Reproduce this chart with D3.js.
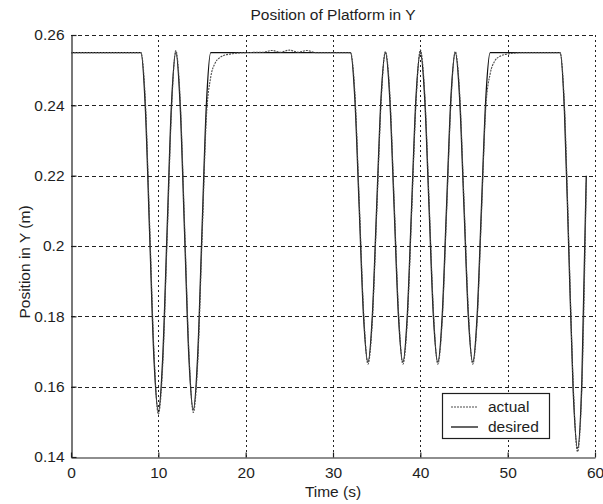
<!DOCTYPE html>
<html>
<head>
<meta charset="utf-8">
<script src="https://cdn.jsdelivr.net/npm/d3@7"></script>
<style>
  html, body { margin: 0; padding: 0; background: #fff; }
  svg { display: block; font-family: "Liberation Sans", Arial, sans-serif; }
</style>
</head>
<body>
<svg id="chart" width="603" height="504"></svg>
<script>
// Platform Y position: sample times (s)
const time = [
  0, 8,
  8.5, 9, 9.5, 10, 10.5, 11, 11.5, 12, 12.5, 13, 13.5, 14, 14.5, 15, 15.5, 16,
  16.5, 17, 18, 20, 22, 23, 24, 25, 26, 27, 28, 30, 32,
  32.5, 33, 33.5, 34, 34.5, 35, 35.5, 36, 36.5, 37, 37.5, 38, 38.5, 39, 39.5, 40,
  40.5, 41, 41.5, 42, 42.5, 43, 43.5, 44, 44.5, 45, 45.5, 46, 46.5, 47, 47.5, 48,
  48.5, 49, 50, 52, 54, 56,
  56.5, 57, 57.5, 58, 58.5, 59
];

// Commanded trajectory (m)
const desired = [
  0.255, 0.255,
  0.2400, 0.2040, 0.1680, 0.1530, 0.1680, 0.2040, 0.2400, 0.2550, 0.2400, 0.2042, 0.1684, 0.1535, 0.1684, 0.2042, 0.2400, 0.2550,
  0.255, 0.255, 0.255, 0.255, 0.255, 0.255, 0.255, 0.255, 0.255, 0.255, 0.255, 0.255, 0.255,
  0.2421, 0.2110, 0.1799, 0.1670, 0.1799, 0.2110, 0.2421, 0.2550, 0.2421, 0.2110, 0.1799, 0.1670, 0.1799, 0.2110, 0.2421, 0.2550,
  0.2421, 0.2110, 0.1799, 0.1670, 0.1799, 0.2110, 0.2421, 0.2550, 0.2421, 0.2110, 0.1799, 0.1670, 0.1799, 0.2110, 0.2421, 0.2550,
  0.255, 0.255, 0.255, 0.255, 0.255, 0.255,
  0.2385, 0.1988, 0.1590, 0.1425, 0.1620, 0.2200
];

// Measured response (m)
const actual = [
  0.255, 0.255,
  0.2420, 0.2065, 0.1700, 0.1522, 0.1660, 0.2015, 0.2380, 0.2556, 0.2418, 0.2065, 0.1700, 0.1527, 0.1665, 0.2015, 0.2365, 0.2480,
  0.2520, 0.2535, 0.2545, 0.2550, 0.2551, 0.2556, 0.2551, 0.2557, 0.2551, 0.2556, 0.2550, 0.2550, 0.2550,
  0.2438, 0.2130, 0.1815, 0.1664, 0.1785, 0.2090, 0.2405, 0.2553, 0.2436, 0.2130, 0.1815, 0.1664, 0.1785, 0.2090, 0.2405, 0.2558,
  0.2436, 0.2130, 0.1815, 0.1664, 0.1785, 0.2090, 0.2405, 0.2553, 0.2436, 0.2130, 0.1815, 0.1664, 0.1785, 0.2090, 0.2395, 0.2490,
  0.2525, 0.2538, 0.2546, 0.2550, 0.2550, 0.2550,
  0.2400, 0.2010, 0.1610, 0.1415, 0.1600, 0.2180
];

const xTicks = [0, 10, 20, 30, 40, 50, 60];
const yTicks = [0.14, 0.16, 0.18, 0.2, 0.22, 0.24, 0.26];
const seriesNames = ["actual", "desired"];

const svg = d3.select("#chart");
const margin = { top: 35, right: 8, bottom: 47, left: 71 };
const W = 603, H = 504;

const x = d3.scaleLinear().domain([0, 60]).range([margin.left, W - margin.right]);
const y = d3.scaleLinear().domain([0.14, 0.26]).range([H - margin.bottom, margin.top]);

const ink = "#1e1e1e";
const fontSize = 15.5;

// Dotted grid at every tick
const grid = svg.append("g").attr("stroke", "#222").attr("stroke-width", 1).attr("fill", "none");
grid.selectAll("line.v").data(xTicks.filter(d => d > 0)).join("line")
  .attr("stroke-dasharray", "2,3")
  .attr("x1", d => Math.round(x(d)) + 0.5).attr("x2", d => Math.round(x(d)) + 0.5)
  .attr("y1", y(0.14)).attr("y2", y(0.26));
grid.selectAll("line.h").data(yTicks.filter(d => d > 0.14)).join("line")
  .attr("stroke-dasharray", "4,3")
  .attr("y1", d => Math.round(y(d)) + 0.5).attr("y2", d => Math.round(y(d)) + 0.5)
  .attr("x1", x(0)).attr("x2", x(60));

// Axes (left and bottom, ticks pointing inward)
const xAxis = d3.axisBottom(x).tickValues(xTicks).tickFormat(d => String(d))
  .tickSizeInner(-5).tickSizeOuter(0).tickPadding(9);
const yAxis = d3.axisLeft(y).tickValues(yTicks).tickFormat(d => String(d))
  .tickSizeInner(-5).tickSizeOuter(0).tickPadding(7);

const gx = svg.append("g").attr("transform", `translate(0,${Math.round(y(0.14)) + 0.5})`).call(xAxis);
const gy = svg.append("g").attr("transform", `translate(${Math.round(x(0)) + 0.5},0)`).call(yAxis);
[gx, gy].forEach(g => {
  g.select(".domain").attr("stroke", ink).attr("stroke-width", 1.2);
  g.selectAll(".tick line").attr("stroke", ink).attr("stroke-width", 1.2);
  g.selectAll(".tick text").attr("fill", ink).attr("font-size", fontSize)
    .attr("font-family", "'Liberation Sans', Arial, sans-serif");
});

// Response curves
const line = vals => d3.line()
  .x((d, i) => x(time[i]))
  .y(d => y(d))
  .curve(d3.curveMonotoneX)(vals);

svg.append("path").attr("d", line(desired))
  .attr("fill", "none").attr("stroke", "#111").attr("stroke-width", 1.3);
svg.append("path").attr("d", line(actual))
  .attr("fill", "none").attr("stroke", "#4a4a4a").attr("stroke-width", 1.1)
  .attr("stroke-dasharray", "2,1");

// Title and axis labels
svg.append("text").attr("x", 333).attr("y", 20).attr("text-anchor", "middle")
  .attr("font-size", fontSize).attr("fill", ink).text("Position of Platform in Y");
svg.append("text").attr("x", 333).attr("y", 497).attr("text-anchor", "middle")
  .attr("font-size", fontSize).attr("fill", ink).text("Time (s)");
svg.append("text").attr("transform", "translate(30,262) rotate(-90)")
  .attr("text-anchor", "middle").attr("font-size", fontSize).attr("fill", ink)
  .text("Position in Y (m)");

// Legend
const lg = svg.append("g");
lg.append("rect").attr("x", 442.5).attr("y", 393.5).attr("width", 107).attr("height", 45)
  .attr("fill", "#fff").attr("stroke", ink).attr("stroke-width", 1.2);
const styles = [
  { stroke: "#4a4a4a", dash: "2,1", w: 1.1 },
  { stroke: "#111", dash: null, w: 1.3 }
];
seriesNames.forEach((name, i) => {
  const yy = 407 + i * 20;
  lg.append("line").attr("x1", 451).attr("x2", 478).attr("y1", yy).attr("y2", yy)
    .attr("stroke", styles[i].stroke).attr("stroke-width", styles[i].w)
    .attr("stroke-dasharray", styles[i].dash);
  lg.append("text").attr("x", 488).attr("y", yy + 5).attr("font-size", fontSize)
    .attr("fill", ink).text(name);
});
</script>
</body>
</html>
